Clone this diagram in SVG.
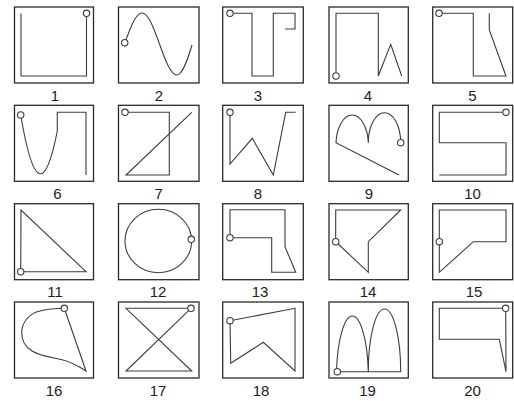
<svg xmlns="http://www.w3.org/2000/svg" width="514" height="401" viewBox="0 0 514 401">
<style>
.box{fill:#fff;stroke:#2a2a2a;stroke-width:1.3}
.fig{fill:none;stroke:#3c3c3c;stroke-width:1.1;stroke-linejoin:miter}
.st{fill:#fff;stroke:#3c3c3c;stroke-width:1.1}
.lbl{font-family:"Liberation Sans",Arial,sans-serif;font-size:15px;fill:#222;text-anchor:middle}
</style>
<rect width="514" height="401" fill="#fff"/>
<g id="p1"><rect class="box" x="14.5" y="7" width="79" height="76"/><path class="fig" d="M21,13.5 V76 H86.5 V16.5"/><circle class="st" cx="86.5" cy="13.3" r="3.2"/><text class="lbl" x="55" y="100.5">1</text></g>
<g id="p2"><rect class="box" x="118.5" y="7" width="80.5" height="76"/><path class="fig" d="M124.5,44 C130.2,28.1 135.7,13 142,13 C148.3,13 153.8,28.1 159.5,44 C165.2,59.9 170.7,75 177,75 C182.5,75 187.5,60 192,45"/><circle class="st" cx="124.7" cy="42.7" r="3.2"/><text class="lbl" x="159" y="100.5">2</text></g>
<g id="p3"><rect class="box" x="222.7" y="7" width="80.6" height="76"/><path class="fig" d="M230,13.3 H252 V76 H273.3 V13.3 H295 V29 H285"/><circle class="st" cx="230" cy="13.3" r="3.2"/><text class="lbl" x="258" y="100.5">3</text></g>
<g id="p4"><rect class="box" x="329" y="7" width="79.3" height="76"/><path class="fig" d="M336,76 V13.3 H378.3 V76 L390.7,44.3 L401.7,76"/><circle class="st" cx="336" cy="76" r="3.2"/><text class="lbl" x="368" y="100.5">4</text></g>
<g id="p5"><rect class="box" x="432.7" y="7" width="80" height="76"/><path class="fig" d="M439,13.3 H473.3 V76 H506 L489.3,30 V13.3"/><circle class="st" cx="439" cy="13.3" r="3.2"/><text class="lbl" x="472.5" y="100.5">5</text></g>

<g id="p6"><rect class="box" x="14.5" y="105.3" width="79" height="76"/><path class="fig" d="M20.7,115 Q39,224 57.3,131 V112.3 H86 V175"/><circle class="st" cx="20.7" cy="115" r="3.2"/><text class="lbl" x="57.5" y="198.5">6</text></g>
<g id="p7"><rect class="box" x="118.5" y="105.3" width="80.5" height="76"/><path class="fig" d="M125,112.3 H169.3 V175 H126 L191.7,112.3"/><circle class="st" cx="125" cy="112.3" r="3.2"/><text class="lbl" x="158.7" y="198.5">7</text></g>
<g id="p8"><rect class="box" x="222.7" y="105.3" width="80.6" height="76"/><path class="fig" d="M230,112.3 V164 L252.3,138.3 L273.3,175 L285.7,112.3 H295.7"/><circle class="st" cx="230" cy="112.3" r="3.2"/><text class="lbl" x="258" y="198.5">8</text></g>
<g id="p9"><rect class="box" x="329" y="105.3" width="79.3" height="76"/><path class="fig" d="M400.7,142.7 A16.2,30 0 0 0 368.3,142.7 A16.2,30 0 0 0 336,142.7 L399,175"/><circle class="st" cx="400.7" cy="142.7" r="3.2"/><text class="lbl" x="369" y="198.5">9</text></g>
<g id="p10"><rect class="box" x="432.7" y="105.3" width="80" height="76"/><path class="fig" d="M506,112.3 H439.3 V142.7 H506 V175 H439.3"/><circle class="st" cx="506" cy="112.3" r="3.2"/><text class="lbl" x="472.5" y="198.5">10</text></g>

<g id="p11"><rect class="box" x="14.5" y="203.7" width="79" height="76"/><path class="fig" d="M20.7,271.7 H86 L21,210 Z"/><circle class="st" cx="20.7" cy="271.7" r="3.2"/><text class="lbl" x="55" y="297">11</text></g>
<g id="p12"><rect class="box" x="118.5" y="203.7" width="80.5" height="76"/><ellipse class="fig" cx="158.3" cy="241" rx="33.3" ry="31.7"/><circle class="st" cx="191.3" cy="239.3" r="3.2"/><text class="lbl" x="158" y="297">12</text></g>
<g id="p13"><rect class="box" x="222.7" y="203.7" width="80.6" height="76"/><path class="fig" d="M230,237.7 H271.7 V272.3 H295.7 L285,246.7 V209.7 H230 Z"/><circle class="st" cx="230" cy="237.7" r="3.2"/><text class="lbl" x="260" y="297">13</text></g>
<g id="p14"><rect class="box" x="329" y="203.7" width="79.3" height="76"/><path class="fig" d="M335.7,241.7 V210 H400.7 L368.3,241.7 V272.3 Z"/><circle class="st" cx="335.7" cy="241.7" r="3.2"/><text class="lbl" x="368" y="297">14</text></g>
<g id="p15"><rect class="box" x="432.7" y="203.7" width="80" height="76"/><path class="fig" d="M439.3,241.7 V210 H506 V241.7 H473.3 L439.3,272.3 Z"/><circle class="st" cx="439.3" cy="241.7" r="3.2"/><text class="lbl" x="474" y="297">15</text></g>

<g id="p16"><rect class="box" x="14.5" y="302" width="79" height="76"/><path class="fig" d="M64.3,308.3 L86,371 C80,367 72,362 62,359.7 C50,357 40,356 32,351 C24,346 21.5,339 21.7,332 C22,322 30,313 40,311 C48,309 56,308.3 64.3,308.3"/><circle class="st" cx="64.3" cy="308.3" r="3.2"/><text class="lbl" x="54" y="396">16</text></g>
<g id="p17"><rect class="box" x="118.5" y="302" width="80.5" height="76"/><path class="fig" d="M191,308.3 H126 L191.7,371 H126 Z"/><circle class="st" cx="191" cy="308.3" r="3.2"/><text class="lbl" x="158" y="396">17</text></g>
<g id="p18"><rect class="box" x="222.7" y="302" width="80.6" height="76"/><path class="fig" d="M230,320.7 L295,308.3 V371 L263.3,342.3 L230.7,363.3 Z"/><circle class="st" cx="230" cy="320.7" r="3.2"/><text class="lbl" x="261" y="396">18</text></g>
<g id="p19"><rect class="box" x="329" y="302" width="79.3" height="76"/><path class="fig" d="M336.5,371.7 A16,62.7 0 0 1 368.3,371.7 A16.2,62.7 0 0 1 400.7,371.7 H336.5"/><circle class="st" cx="337.3" cy="371.7" r="3.2"/><text class="lbl" x="367.5" y="396">19</text></g>
<g id="p20"><rect class="box" x="432.7" y="302" width="80" height="76"/><path class="fig" d="M505.7,308.3 H439.3 V339.3 H499.3 L506,371.7 Z"/><circle class="st" cx="505.7" cy="308.3" r="3.2"/><text class="lbl" x="472.5" y="396">20</text></g>
</svg>
